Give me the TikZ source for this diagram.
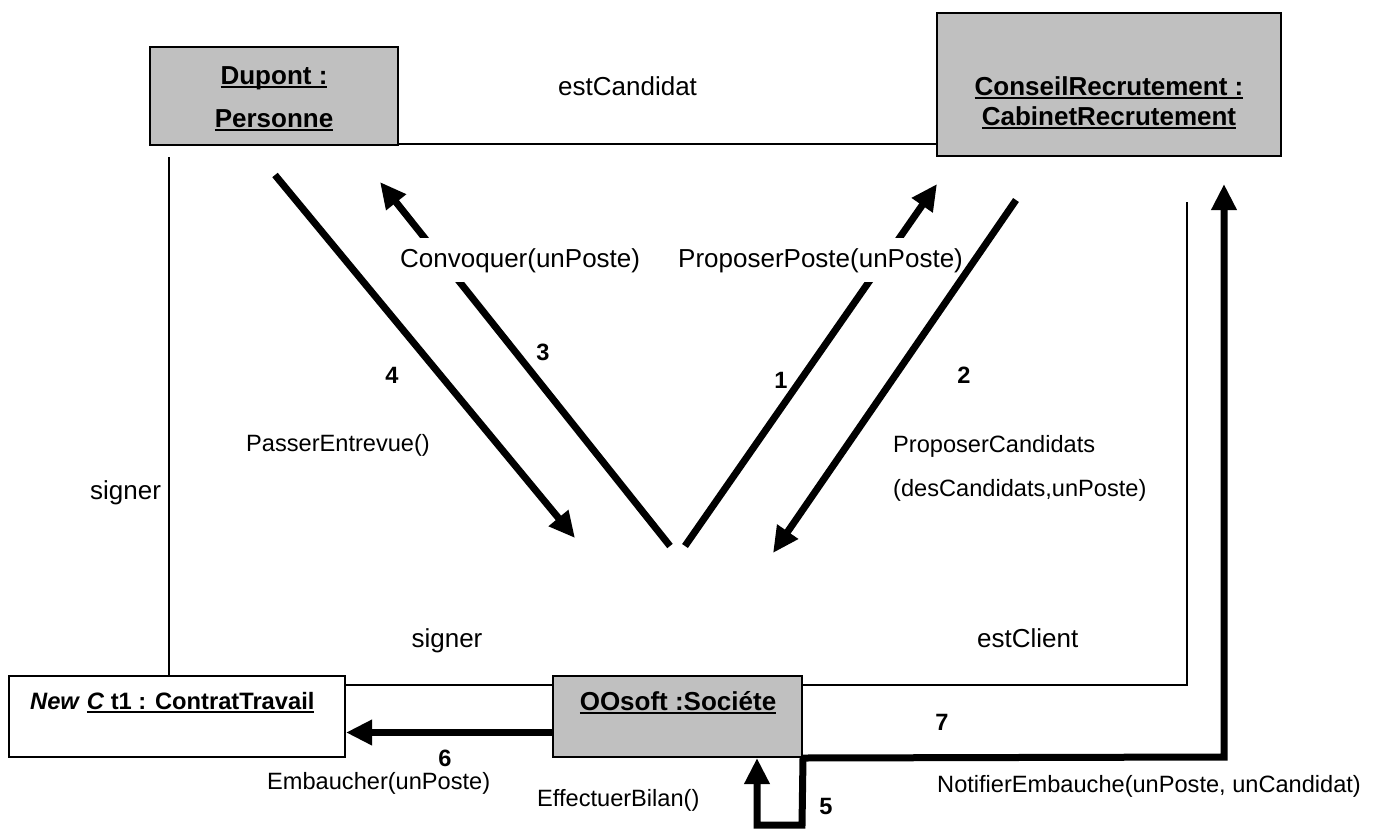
\documentclass[tikz,border=0pt]{standalone}
\usepackage{fontspec}
\setmainfont{Liberation Sans}
\usetikzlibrary{arrows.meta}
\definecolor{objgray}{HTML}{C0C0C0}
% underline with a firm rule
\newcommand\udl[1]{\setbox0\hbox{#1}\rlap{\raisebox{-4pt}{\rule{\wd0}{1.6pt}}}\box0}
\begin{document}
\begin{tikzpicture}[x=1pt,y=-1pt,
  objbox/.style={draw=black, line width=2pt, fill=objgray, inner sep=0pt},
  assoc/.style={line width=1.5pt},
  msg/.style={line width=7pt, line join=miter, -{Triangle[length=26pt,width=24pt]}},
  bigtxt/.style={font=\fontsize{26}{30}\selectfont, inner sep=0pt, text height=19pt, text depth=5pt},
  smalltxt/.style={font=\fontsize{23.6}{28}\selectfont, inner sep=0pt, text height=17pt, text depth=5pt},
  numtxt/.style={font=\fontsize{23.6}{28}\selectfont\bfseries, inner sep=0pt},
  objtxt/.style={font=\fontsize{26}{30}\selectfont\bfseries, inner sep=0pt, text height=19pt, text depth=5pt},
  cover/.style={fill=white, inner xsep=3pt, inner ysep=10pt}
]
\useasboundingbox (0,0) rectangle (1383,830);

% objects
\node[objbox, minimum width=248pt, minimum height=98pt] (dupont) at (274,96) {};
\node[objbox, minimum width=344pt, minimum height=143pt] (conseil) at (1109,84.5) {};
\node[objbox, fill=white, minimum width=336pt, minimum height=81pt] (contrat) at (177,716.5) {};
\node[objbox, minimum width=249pt, minimum height=81pt] (oosoft) at (677.5,716.5) {};

\node[objtxt] (dupontA) at (274,77) {\udl{Dupont :}};
\node[objtxt] (dupontB) at (274,120) {\udl{Personne}};
\node[objtxt] (conseilA) at (1109,88) {\udl{ConseilRecrutement :}};
\node[objtxt] (conseilB) at (1109,118) {\udl{CabinetRecrutement}};
\node[objtxt, font=\fontsize{23.7}{28}\selectfont\bfseries, anchor=west] (contratT) at (30,702) {\textit{New} \udl{\textit{C} t1 : ContratTravail}};
\node[objtxt] (oosoftT) at (678,703) {\udl{OOsoft :Sociéte}};

% links
\coordinate (sigTop) at (169,157);
\coordinate (cliTop) at (1187,202);
\draw[assoc] ([yshift=2pt]dupont.south east) -- ([yshift=2pt]dupont.south east -| conseil.west);
\draw[assoc] (sigTop) -- (sigTop |- contrat.north);
\draw[assoc] ([yshift=-10pt]contrat.north east) -- ([yshift=-10pt]oosoft.north west);
\draw[assoc] ([yshift=-10pt]oosoft.north east) -- ([yshift=-10pt]oosoft.north east -| cliTop) -- (cliTop);

% messages
\coordinate (m4a) at (275,175);  \coordinate (m4b) at (575,538);
\coordinate (m3a) at (670,546);  \coordinate (m3b) at (380,182);
\coordinate (m1a) at (685,546);  \coordinate (m1b) at (937,184);
\coordinate (m2a) at (1016,200); \coordinate (m2b) at (773,553);
\coordinate (loopR) at (802,825); \coordinate (loopL) at (757,825);
\coordinate (m7c) at (1224,757); \coordinate (m7t) at (1224,184);

\draw[msg] (m4a) -- (m4b);
\draw[msg] (m3a) -- (m3b);
\draw[msg] (m1a) -- (m1b);

\node[bigtxt, cover, anchor=west] (lConv) at (397,260) {Convoquer(unPoste)};
\node[bigtxt, cover, anchor=west] (lProp) at (675,260) {ProposerPoste(unPoste)};

\draw[msg] (m2a) -- (m2b);
\draw[msg] (oosoft.south east) -- (loopR) -- (loopL) -- (loopL |- oosoft.south);
\draw[msg] (oosoft.south east) -- (m7c) -- (m7t);
\draw[msg] ([yshift=-16pt]oosoft.west) -- ([yshift=-16pt]oosoft.west -| contrat.east);

% labels
\node[bigtxt, anchor=west] (lCand) at (558,88) {estCandidat};
\node[numtxt] (n3) at (543,352) {3};
\node[numtxt] (n4) at (392,375) {4};
\node[numtxt] (n1) at (781,380) {1};
\node[numtxt] (n2) at (964,375) {2};
\node[smalltxt, anchor=west] (lPass) at (246,445) {PasserEntrevue()};
\node[smalltxt, anchor=west] (lPC1) at (893,446) {ProposerCandidats};
\node[smalltxt, anchor=west] (lPC2) at (893,490) {(desCandidats,unPoste)};
\node[bigtxt, anchor=west] (lSig1) at (90,492) {signer};
\node[bigtxt] (lSig2) at (447,640) {signer};
\node[bigtxt, anchor=west] (lCli) at (977,640) {estClient};
\node[numtxt] (n6) at (445,758) {6};
\node[smalltxt, anchor=west] (lEmb) at (267,783) {Embaucher(unPoste)};
\node[smalltxt, anchor=west] (lBil) at (537,800) {EffectuerBilan()};
\node[numtxt] (n5) at (826,806) {5};
\node[numtxt] (n7) at (942,722) {7};
\node[smalltxt, anchor=west] (lNot) at (937,786) {NotifierEmbauche(unPoste, unCandidat)};
\end{tikzpicture}
\end{document}
